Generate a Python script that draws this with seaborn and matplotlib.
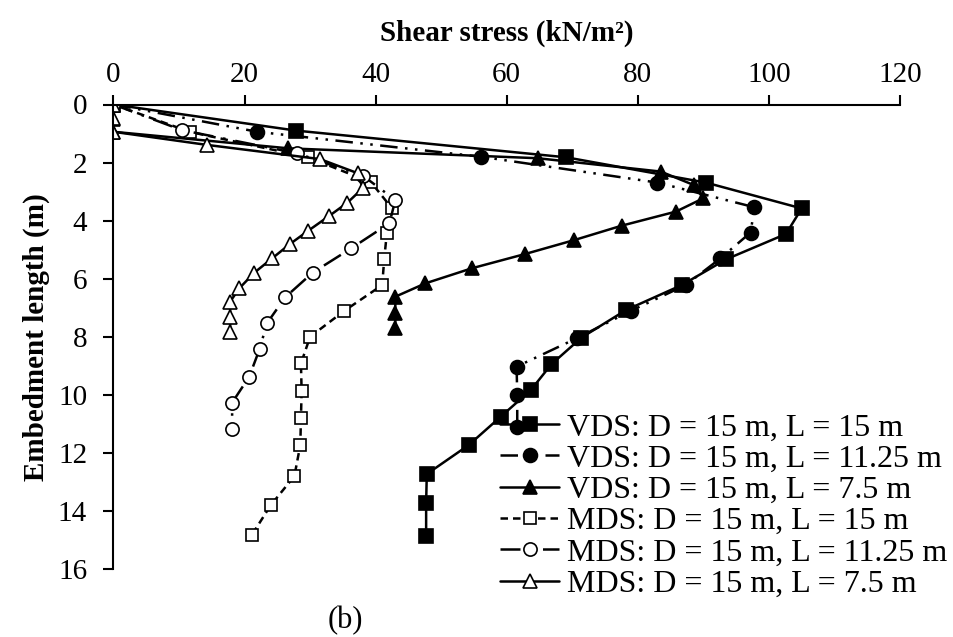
import numpy as np
import pandas as pd
import matplotlib
matplotlib.use("Agg")
import matplotlib.pyplot as plt
import seaborn as sns

# ---- data (shear stress kN/m^2 vs embedment depth m) ----
vds15_x = [0, 27.9, 69.1, 90.4, 105.0, 102.6, 93.5, 86.7, 78.2, 71.4, 66.8, 63.7, 59.1, 54.2, 47.8, 47.7, 47.7]
vds15_y = [0, 0.90, 1.82, 2.69, 3.58, 4.46, 5.33, 6.22, 7.08, 8.03, 8.95, 9.83, 10.75, 11.73, 12.73, 13.72, 14.86]

vds1125_x = [0, 21.95, 56.1, 83.0, 97.8, 97.2, 92.6, 87.3, 78.9, 70.7, 61.5, 61.6, 61.6]
vds1125_y = [0, 0.94, 1.80, 2.69, 3.54, 4.41, 5.30, 6.22, 7.11, 8.05, 9.03, 10.0, 11.1]

vds75_x = [0, 0, 0, 26.7, 64.7, 83.5, 88.5, 90.0, 85.8, 77.6, 70.3, 62.8, 54.7, 47.6, 43.0, 43.0, 43.0]
vds75_y = [0, 0.50, 0.94, 1.51, 1.85, 2.31, 2.77, 3.23, 3.69, 4.17, 4.67, 5.15, 5.64, 6.16, 6.62, 7.17, 7.71]

mds15_x = [0, 11.6, 29.7, 39.3, 42.5, 41.7, 41.3, 41.0, 35.2, 30.0, 28.6, 28.7, 28.6, 28.5, 27.6, 24.0, 21.1]
mds15_y = [0, 0.94, 1.82, 2.68, 3.58, 4.44, 5.33, 6.22, 7.11, 8.0, 8.92, 9.86, 10.81, 11.73, 12.8, 13.8, 14.83]

mds1125_x = [0, 10.4, 28.0, 38.1, 43.0, 42.1, 36.3, 30.4, 26.2, 23.4, 22.3, 20.7, 18.1, 18.1]
mds1125_y = [0, 0.88, 1.68, 2.46, 3.29, 4.09, 4.95, 5.79, 6.64, 7.54, 8.42, 9.38, 10.27, 11.19]

mds75_x = [0, 0, 0, 14.2, 31.5, 37.3, 38.0, 35.7, 32.9, 29.7, 26.9, 24.2, 21.5, 19.2, 17.8, 17.8, 17.8]
mds75_y = [0, 0.47, 0.94, 1.39, 1.88, 2.37, 2.89, 3.38, 3.84, 4.35, 4.81, 5.30, 5.79, 6.33, 6.79, 7.31, 7.83]

labels = ["VDS: D = 15 m, L = 15 m",
          "VDS: D = 15 m, L = 11.25 m",
          "VDS: D = 15 m, L = 7.5 m",
          "MDS: D = 15 m, L = 15 m",
          "MDS: D = 15 m, L = 11.25 m",
          "MDS: D = 15 m, L = 7.5 m"]

xticks = [0, 20, 40, 60, 80, 100, 120]
yticks = [0, 2, 4, 6, 8, 10, 12, 14, 16]

sns.set_theme(style="white")
plt.rcParams['font.family'] = ['Liberation Serif', 'DejaVu Serif']

fig = plt.figure(figsize=(9.54, 6.37), dpi=100)
ax = fig.add_axes([113.5/954, 1-569/637, (900-113.5)/954, (569-104.5)/637])

series = [
    (vds15_x, vds15_y, dict(linestyle='-', marker='s', markersize=10, markerfacecolor='black', lw=1.8)),
    (vds1125_x, vds1125_y, dict(linestyle=(0, (7, 3, 1, 3, 1, 3)), marker='o', markersize=10, markerfacecolor='black', lw=1.8)),
    (vds75_x, vds75_y, dict(linestyle='-', marker='^', markersize=10, markerfacecolor='black', lw=1.8)),
    (mds15_x, mds15_y, dict(linestyle=(0, (3, 2)), marker='s', markersize=8.5, markerfacecolor='white', lw=1.8)),
    (mds1125_x, mds1125_y, dict(linestyle=(0, (8, 4, 1, 4)), marker='o', markersize=9.5, markerfacecolor='white', lw=1.8)),
    (mds75_x, mds75_y, dict(linestyle='-', marker='^', markersize=10, markerfacecolor='white', lw=1.8)),
]

for (xs, ys, kw), lab in zip(series, labels):
    df = pd.DataFrame({"stress": xs, "depth": ys})
    sns.lineplot(data=df, x="stress", y="depth", sort=False, estimator=None,
                 color='black', markeredgecolor='black', markeredgewidth=1.2,
                 label=lab, ax=ax, **kw)

ax.set_xlim(0, 120)
ax.set_ylim(16, 0)
ax.set_xticks(xticks)
ax.set_yticks(yticks)
ax.xaxis.tick_top()
ax.xaxis.set_label_position('top')
for s in ['right', 'bottom']:
    ax.spines[s].set_visible(False)
for s in ['left', 'top']:
    ax.spines[s].set_color('black')
    ax.spines[s].set_linewidth(1.5)
ax.tick_params(axis='x', which='both', top=True, bottom=False, direction='out',
               length=7, width=1.5, color='black', labelsize=21, pad=5, labelcolor='black')
ax.tick_params(axis='y', which='both', left=True, direction='out',
               length=7, width=1.5, color='black', labelsize=21, pad=12, labelcolor='black')
ax.set_xlabel("Shear stress (kN/m²)", fontsize=21, fontweight='bold', labelpad=15, color='black')
ax.set_ylabel("Embedment length (m)", fontsize=21, fontweight='bold', labelpad=6, color='black')
ax.grid(False)

leg = ax.legend(loc='upper left', bbox_to_anchor=(500/954, 1-413/637),
                bbox_transform=fig.transFigure, frameon=False, fontsize=23,
                handlelength=1.85, handletextpad=0.25, labelspacing=0.06,
                borderaxespad=0, borderpad=0)
for t in leg.get_texts():
    t.set_color('black')

fig.text(345/954, 1-621/637, "(b)", ha='center', va='center', fontsize=22, color='black')

fig.savefig("out.png", dpi=100)
